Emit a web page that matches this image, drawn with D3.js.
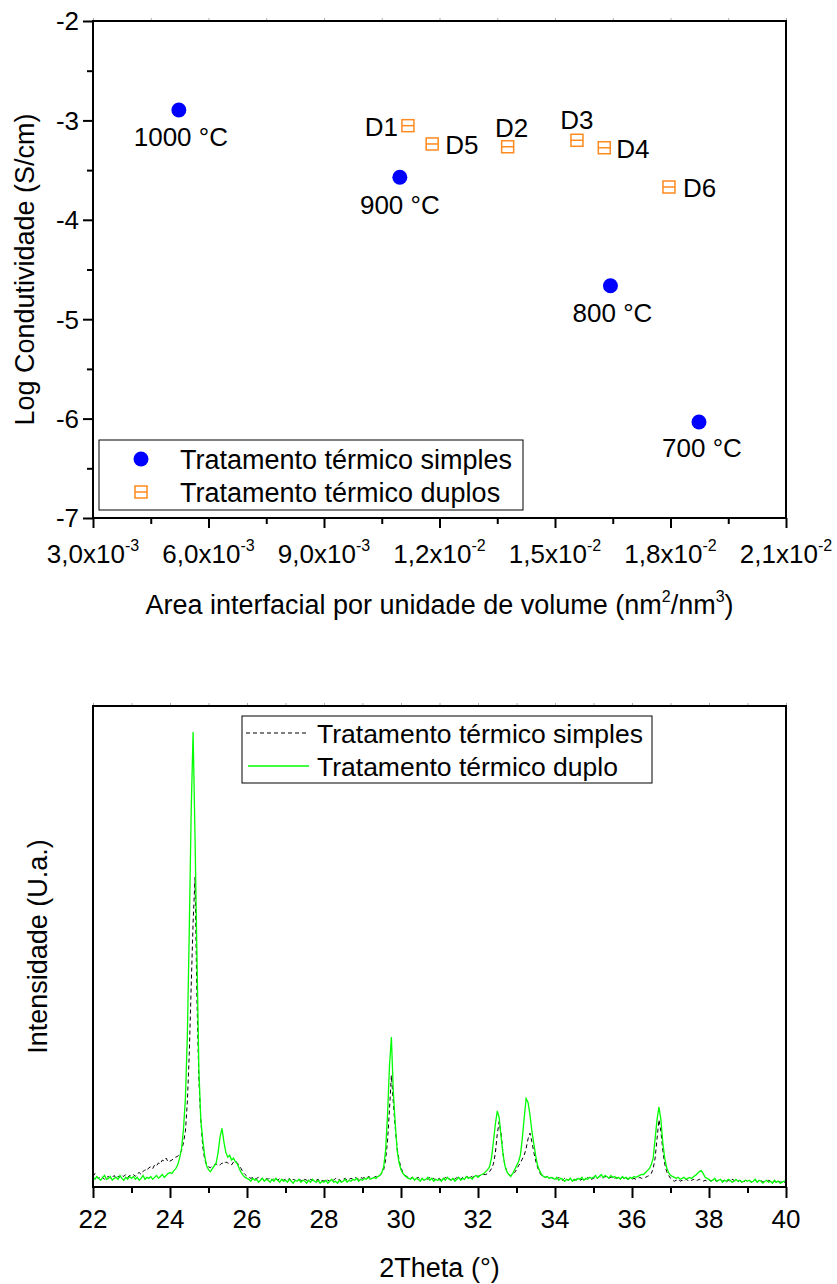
<!DOCTYPE html>
<html><head><meta charset="utf-8">
<script src="https://cdn.jsdelivr.net/npm/d3@7"></script>
<style>
body{margin:0;background:#fff;}
svg{display:block;font-family:"Liberation Sans",Arial,Helvetica,sans-serif;}
</style></head><body>
<svg id="chart" width="837" height="1284"></svg>
<script>
// ================= TOP CHART DATA =================
const simplesLabels = ["1000 °C", "900 °C", "800 °C", "700 °C"];
const simplesArea = [0.00523, 0.01097, 0.01644, 0.01874];
const simplesLogCond = [-2.895, -3.572, -4.663, -6.034];

const duplosLabels = ["D1", "D5", "D2", "D3", "D4", "D6"];
const duplosArea = [0.01118, 0.01181, 0.01377, 0.01557, 0.01628, 0.01796];
const duplosLogCond = [-3.053, -3.237, -3.265, -3.200, -3.275, -3.670];

const xTicksTop = [0.003, 0.006, 0.009, 0.012, 0.015, 0.018, 0.021];
const xTickMantissa = ["3,0", "6,0", "9,0", "1,2", "1,5", "1,8", "2,1"];
const xTickExp = ["-3", "-3", "-3", "-2", "-2", "-2", "-2"];
const xMinorTop = [0.0045, 0.0075, 0.0105, 0.0135, 0.0165, 0.0195];
const yTicksTop = [-7, -6, -5, -4, -3, -2];
const yMinorTop = [-6.5, -5.5, -4.5, -3.5, -2.5];
const legendTop = ["Tratamento térmico simples", "Tratamento térmico duplos"];

// ================= BOTTOM CHART DATA (XRD) =================
const thetaStart = 22, thetaStep = 0.05;   // measurement grid, 22..40
const intSimplesRows = [
 [11,14,10,9,11,10,8,10,11,9,10,12,9,11,10,12,11,13,10,12],
 [12,13,11,14,15,13,16,18,17,20,21,19,23,22,25,24,28,27,30,26],
 [27,28,30,31,32,34,38,46,58,88,138,208,275,322,195,112,70,42,29,23],
 [21,20,22,23,24,22,23,25,24,26,25,24,23,26,27,25,22,19,15,13],
 [11,10,9,10,8,9,10,8,9,7,9,8,10,7,9,8,7,9,8,7],
 [8,7,9,6,8,7,6,8,7,6,8,7,6,8,7,6,7,8,6,7],
 [6,8,7,6,8,7,9,7,8,6,8,9,7,8,9,8,10,9,8,10],
 [9,10,9,11,10,9,10,11,11,12,14,18,28,48,80,116,88,62,40,28],
 [20,15,12,11,10,9,10,8,9,10,8,9,7,9,8,10,8,9,7,8],
 [9,7,8,10,8,9,7,9,8,10,9,8,10,9,11,10,12,10,11,12],
 [11,12,12,13,13,14,16,19,24,35,55,68,55,35,22,16,13,12,13,15],
 [18,22,25,29,33,40,50,56,47,36,27,20,15,12,11,10,11,9,10,9],
 [9,8,10,8,7,9,8,7,9,8,7,8,9,7,8,9,8,10,9,8],
 [9,10,9,11,10,9,11,10,9,10,11,9,10,8,9,10,8,9,8,9],
 [8,9,8,9,10,9,9,10,11,12,14,19,30,50,70,58,38,24,16,12],
 [9,7,6,7,8,6,7,6,8,7,6,7,8,6,7,8,7,6,7,6],
 [7,6,8,7,6,7,8,6,7,5,7,6,8,7,6,5,7,6,5,7],
 [6,7,5,6,7,5,6,7,5,6,5,7,6,5,6,4,6,5,6,5],
 [5]
];
const intDuploRows = [
 [10,8,11,9,7,10,12,8,9,11,7,9,10,8,12,9,7,10,8,11],
 [9,11,8,10,7,9,12,8,10,9,11,8,10,12,9,11,13,10,12,14],
 [15,14,17,19,23,30,40,60,92,156,265,390,473,364,240,122,70,49,33,22],
 [18,16,19,22,25,36,52,61,47,36,31,33,28,30,26,24,19,15,12,10],
 [9,8,6,9,7,8,5,7,9,6,8,7,5,8,6,9,7,5,8,6],
 [7,5,8,6,4,7,6,8,5,7,6,4,7,5,8,6,5,7,4,6],
 [5,7,4,6,8,5,6,4,7,5,6,8,5,7,6,8,7,9,6,8],
 [7,9,8,10,8,9,10,9,11,12,15,21,38,75,125,156,99,66,38,25],
 [18,14,12,10,9,8,10,7,9,8,6,9,7,8,10,7,9,6,8,7],
 [8,6,9,7,10,8,7,9,6,8,10,7,9,8,11,9,10,8,11,12],
 [10,12,13,14,16,18,21,30,47,65,79,72,52,34,22,16,13,11,14,18],
 [22,26,33,50,72,92,88,75,58,45,32,22,17,13,11,10,11,9,10,9],
 [8,10,7,9,8,6,8,7,9,6,8,7,9,8,10,7,9,8,10,9],
 [10,12,9,11,13,10,12,11,9,12,10,11,9,10,8,11,9,10,8,10],
 [9,11,10,11,12,13,13,15,17,19,23,30,50,70,83,70,46,30,20,15],
 [12,11,10,9,10,8,9,10,8,9,10,9,11,12,14,16,17,14,10,9],
 [8,6,7,9,6,7,8,5,7,6,8,7,5,6,8,6,7,5,6,7],
 [6,7,5,6,8,5,7,6,4,6,7,5,6,4,7,5,6,4,5,6],
 [6]
];
const intSimples = intSimplesRows.flat();
const intDuplo = intDuploRows.flat();
const xTicksBottom = [22, 24, 26, 28, 30, 32, 34, 36, 38, 40];
const xMinorBottom = [23, 25, 27, 29, 31, 33, 35, 37, 39];
const legendBottom = ["Tratamento térmico simples", "Tratamento térmico duplo"];

// ================= LAYOUT / STYLE =================
const FS = 27, FS_TICK = 26, FS_SUP = 16;
const BLUE = "#0000ff", ORANGE = "#ff8a1f", GREEN = "#00ff00";
const labelPlace = {
  "1000 °C": {dx: 2, dy: 36, a: "middle"},
  "900 °C": {dx: 0, dy: 37, a: "middle"},
  "800 °C": {dx: 2, dy: 36, a: "middle"},
  "700 °C": {dx: 3, dy: 35, a: "middle"},
  "D1": {dx: -10, dy: 10, a: "end"},
  "D5": {dx: 13, dy: 10, a: "start"},
  "D2": {dx: 4, dy: -10, a: "middle"},
  "D3": {dx: 0, dy: -11, a: "middle"},
  "D4": {dx: 12, dy: 10, a: "start"},
  "D6": {dx: 14, dy: 10, a: "start"}
};

const svg = d3.select("#chart");

function styleAxis(g, w, col) {
  g.select(".domain").remove();
  g.selectAll(".tick line").attr("stroke", col || "#000").attr("stroke-width", w);
}

// ---------------- TOP CHART ----------------
const T = {left: 93, right: 786, top: 21, bottom: 518};
const xT = d3.scaleLinear().domain([0.003, 0.021]).range([T.left, T.right]);
const yT = d3.scaleLinear().domain([-7, -2]).range([T.bottom, T.top]);
const gT = svg.append("g");

gT.append("g").attr("transform", `translate(0,${T.top})`)
  .call(d3.axisTop(xT).tickValues(xTicksTop.concat(xMinorTop)).tickSize(3).tickFormat(""))
  .call(g => styleAxis(g, 1, "#aaa"));
gT.append("g").attr("transform", `translate(0,${T.bottom})`)
  .call(d3.axisBottom(xT).tickValues(xTicksTop).tickSize(10).tickFormat(""))
  .call(g => styleAxis(g, 2));
gT.append("g").attr("transform", `translate(0,${T.bottom})`)
  .call(d3.axisBottom(xT).tickValues(xMinorTop).tickSize(6).tickFormat(""))
  .call(g => styleAxis(g, 2));
gT.append("g").attr("transform", `translate(${T.left},0)`)
  .call(d3.axisLeft(yT).tickValues(yTicksTop).tickSize(10).tickFormat(""))
  .call(g => styleAxis(g, 2));
gT.append("g").attr("transform", `translate(${T.left},0)`)
  .call(d3.axisLeft(yT).tickValues(yMinorTop).tickSize(6).tickFormat(""))
  .call(g => styleAxis(g, 2));

xTicksTop.forEach((v, i) => {
  const t = gT.append("text").attr("x", xT(v)).attr("y", 563)
    .attr("text-anchor", "middle").attr("font-size", FS_TICK).attr("fill", "#000");
  t.append("tspan").text(xTickMantissa[i] + "x10");
  t.append("tspan").attr("font-size", FS_SUP).attr("dy", -12).text(xTickExp[i]);
});
yTicksTop.forEach(v => {
  gT.append("text").attr("x", 79).attr("y", yT(v)).attr("dy", "0.36em")
    .attr("text-anchor", "end").attr("font-size", FS_TICK).text(String(v));
});

gT.append("rect").attr("x", T.left).attr("y", T.top)
  .attr("width", T.right - T.left).attr("height", T.bottom - T.top)
  .attr("fill", "none").attr("stroke", "#000").attr("stroke-width", 2);

const xt = gT.append("text").attr("x", (T.left + T.right) / 2).attr("y", 614)
  .attr("text-anchor", "middle").attr("font-size", FS);
xt.append("tspan").text("Area interfacial por unidade de volume (nm");
xt.append("tspan").attr("font-size", FS_SUP).attr("dy", -12).text("2");
xt.append("tspan").attr("dy", 12).text("/nm");
xt.append("tspan").attr("font-size", FS_SUP).attr("dy", -12).text("3");
xt.append("tspan").attr("dy", 12).text(")");
gT.append("text").attr("transform", `translate(34,${(T.top + T.bottom) / 2}) rotate(-90)`)
  .attr("text-anchor", "middle").attr("font-size", FS).text("Log Condutividade (S/cm)");

function drawSquare(g, cx, cy) {
  const s = 12;
  g.append("rect").attr("x", cx - s / 2).attr("y", cy - s / 2).attr("width", s).attr("height", s)
    .attr("fill", "none").attr("stroke", ORANGE).attr("stroke-width", 1.5);
  g.append("line").attr("x1", cx - s / 2).attr("x2", cx + s / 2).attr("y1", cy).attr("y2", cy)
    .attr("stroke", ORANGE).attr("stroke-width", 1.5);
}
const simplesData = simplesLabels.map((l, i) => ({l, x: simplesArea[i], y: simplesLogCond[i]}));
const duplosData = duplosLabels.map((l, i) => ({l, x: duplosArea[i], y: duplosLogCond[i]}));

gT.selectAll("circle.pt").data(simplesData).join("circle").attr("class", "pt")
  .attr("cx", d => xT(d.x)).attr("cy", d => yT(d.y)).attr("r", 7.5).attr("fill", BLUE);
duplosData.forEach(d => drawSquare(gT, xT(d.x), yT(d.y)));

simplesData.concat(duplosData).forEach(d => {
  const p = labelPlace[d.l];
  gT.append("text").attr("x", xT(d.x) + p.dx).attr("y", yT(d.y) + p.dy)
    .attr("text-anchor", p.a).attr("font-size", FS_TICK).text(d.l);
});

const LT = {x: 99, y: 440, w: 424, h: 70};
gT.append("rect").attr("x", LT.x).attr("y", LT.y).attr("width", LT.w).attr("height", LT.h)
  .attr("fill", "#fff").attr("stroke", "#000").attr("stroke-width", 1);
gT.append("circle").attr("cx", 141).attr("cy", 459).attr("r", 7.5).attr("fill", BLUE);
drawSquare(gT, 141, 492);
gT.append("text").attr("x", 180).attr("y", 468.5).attr("font-size", FS).text(legendTop[0]);
gT.append("text").attr("x", 180).attr("y", 501.5).attr("font-size", FS).text(legendTop[1]);

// ---------------- BOTTOM CHART ----------------
const B = {left: 93, right: 786, top: 706, bottom: 1187};
const xB = d3.scaleLinear().domain([22, 40]).range([B.left, B.right]);
const yB = d3.scaleLinear().domain([0, 500]).range([B.bottom, B.top]);
const gB = svg.append("g");

gB.append("g").attr("transform", `translate(0,${B.top})`)
  .call(d3.axisTop(xB).tickValues(xTicksBottom.concat(xMinorBottom)).tickSize(3).tickFormat(""))
  .call(g => styleAxis(g, 1, "#aaa"));
gB.append("g").attr("transform", `translate(0,${B.bottom})`)
  .call(d3.axisBottom(xB).tickValues(xTicksBottom).tickSize(11).tickFormat(""))
  .call(g => styleAxis(g, 2));
gB.append("g").attr("transform", `translate(0,${B.bottom})`)
  .call(d3.axisBottom(xB).tickValues(xMinorBottom).tickSize(6).tickFormat(""))
  .call(g => styleAxis(g, 2));
xTicksBottom.forEach(v => {
  gB.append("text").attr("x", xB(v)).attr("y", 1228).attr("text-anchor", "middle")
    .attr("font-size", FS_TICK).text(String(v));
});

const line = d3.line()
  .x((d, i) => xB(thetaStart + i * thetaStep))
  .y(d => yB(d));
gB.append("path").datum(intSimples).attr("d", line).attr("fill", "none")
  .attr("stroke", "#000").attr("stroke-width", 1).attr("stroke-dasharray", "4,3");
gB.append("path").datum(intDuplo).attr("d", line).attr("fill", "none")
  .attr("stroke", GREEN).attr("stroke-width", 1.3);

gB.append("rect").attr("x", B.left).attr("y", B.top)
  .attr("width", B.right - B.left).attr("height", B.bottom - B.top)
  .attr("fill", "none").attr("stroke", "#000").attr("stroke-width", 2);

gB.append("text").attr("x", (B.left + B.right) / 2).attr("y", 1277)
  .attr("text-anchor", "middle").attr("font-size", FS).text("2Theta (°)");
gB.append("text").attr("transform", `translate(47,${(B.top + B.bottom) / 2}) rotate(-90)`)
  .attr("text-anchor", "middle").attr("font-size", FS).text("Intensidade (U.a.)");

const LB = {x: 242, y: 716, w: 410, h: 67};
gB.append("rect").attr("x", LB.x).attr("y", LB.y).attr("width", LB.w).attr("height", LB.h)
  .attr("fill", "#fff").attr("stroke", "#000").attr("stroke-width", 1);
gB.append("line").attr("x1", 246).attr("x2", 308).attr("y1", 733).attr("y2", 733)
  .attr("stroke", "#000").attr("stroke-width", 1).attr("stroke-dasharray", "4,3");
gB.append("line").attr("x1", 248).attr("x2", 309).attr("y1", 766).attr("y2", 766)
  .attr("stroke", GREEN).attr("stroke-width", 1.3);
gB.append("text").attr("x", 317).attr("y", 742.5).attr("font-size", 26.5).text(legendBottom[0]);
gB.append("text").attr("x", 317).attr("y", 775.5).attr("font-size", 26.5).text(legendBottom[1]);
</script>
</body></html>
